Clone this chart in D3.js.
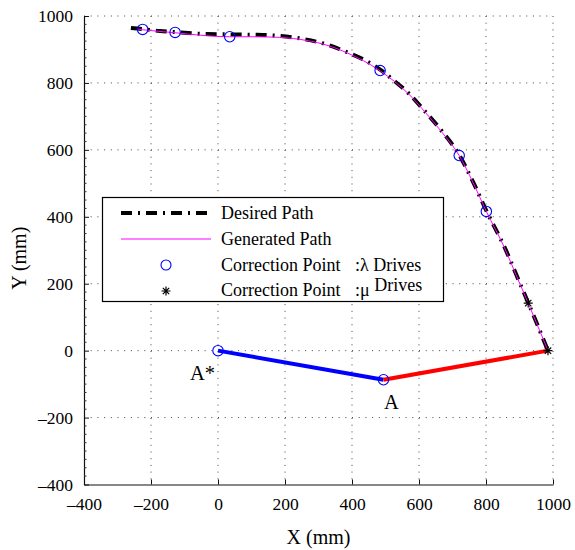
<!DOCTYPE html>
<html>
<head>
<meta charset="utf-8">
<script src="https://cdn.jsdelivr.net/npm/d3@7"></script>
<style>
  html, body { margin: 0; padding: 0; background: #fff; }
  svg { display: block; }
  text { font-family: "Liberation Serif", "Times New Roman", serif; fill: #000; }
</style>
</head>
<body>
<svg id="chart" width="575" height="550"></svg>
<script>
// ---------------- data ----------------
const desiredX = [-260, -225, -173, -128, -34, 35, 104, 164, 245, 314, 385, 463, 484, 523, 569, 619, 669, 720, 761, 801, 855, 890, 926, 956, 985];
const desiredY = [964, 961, 955, 952, 946, 945, 944, 942, 933, 918, 892, 854, 840, 809, 769, 714, 655, 585, 505, 418, 310, 228, 143, 71, 0];

const generatedX = [-240, -225, -128, -34, 35, 104, 164, 245, 314, 385, 484, 569, 619, 669, 720, 761, 801, 855, 890, 926, 956, 985];
const generatedY = [961, 959, 950, 941, 938, 938, 937, 930, 916, 890, 836, 767, 712, 652, 583, 503, 416, 308, 226, 142, 70, 0];

const lambdaX = [-225, -128, 35, 484, 720, 801, 0, 494];
const lambdaY = [960, 951, 938, 837, 583, 416, 0, -87];

const muX = [926, 985];
const muY = [142, 0];

const armBlueX = [0, 494];
const armBlueY = [0, -87];
const armRedX = [494, 985];
const armRedY = [-87, 0];

const pointLabels = ["A*", "A"];
const pointLabelX = [0, 494];
const pointLabelY = [0, -87];

const xTicks = [-400, -200, 0, 200, 400, 600, 800, 1000];
const xTickLabels = ["\u2013400", "\u2013200", "0", "200", "400", "600", "800", "1000"];
const yTicks = [-400, -200, 0, 200, 400, 600, 800, 1000];
const yTickLabels = ["\u2013400", "\u2013200", "0", "200", "400", "600", "800", "1000"];

const legendLabels = ["Desired Path", "Generated Path", "Correction Point", "Correction Point"];
const legendSuffix = ["", "", ":\u03bb Drives", ":\u03bc Drives"];

// ---------------- layout ----------------
const svg = d3.select("#chart");
const L = 84, R = 553, T = 16, B = 484.5;
const x = d3.scaleLinear().domain([-400, 1000]).range([L, R]);
const y = d3.scaleLinear().domain([-400, 1000]).range([B, T]);

const dashDot = "11,6,2,6";

// grid
const grid = svg.append("g");
grid.selectAll("line.gx").data(xTicks.filter(d => d !== -400)).enter().append("line")
  .attr("x1", d => x(d)).attr("x2", d => x(d)).attr("y1", T).attr("y2", B)
  .attr("stroke", "#444").attr("stroke-width", 1).attr("stroke-dasharray", "1,5.7");
grid.selectAll("line.gy").data(yTicks.filter(d => d !== -400)).enter().append("line")
  .attr("y1", d => y(d)).attr("y2", d => y(d)).attr("x1", L).attr("x2", R)
  .attr("stroke", "#444").attr("stroke-width", 1).attr("stroke-dasharray", "1,5.7");

// axes
const xAxis = d3.axisBottom(x).tickValues(xTicks).tickFormat((d, i) => xTickLabels[i])
  .tickSizeInner(-5).tickSizeOuter(0).tickPadding(13);
const yAxis = d3.axisLeft(y).tickValues(yTicks).tickFormat((d, i) => yTickLabels[i])
  .tickSizeInner(-5).tickSizeOuter(0).tickPadding(11);

const gx = svg.append("g").attr("transform", `translate(0,${B})`).call(xAxis);
const gy = svg.append("g").attr("transform", `translate(${L},0)`).call(yAxis);
[gx, gy].forEach(g => {
  g.select(".domain").attr("stroke", "#111").attr("stroke-width", 1.2);
  g.selectAll(".tick line").attr("stroke", "#111");
  g.selectAll(".tick text").attr("font-family", "Liberation Serif").attr("font-size", 17.5).attr("fill", "#000");
});

// minor ticks on y axis
const yMinor = d3.range(-400, 1001, 25).filter(v => v % 200 !== 0);
gy.selectAll("line.minor").data(yMinor).enter().append("line")
  .attr("x1", 0).attr("x2", 2.5).attr("y1", d => y(d)).attr("y2", d => y(d))
  .attr("stroke", "#333").attr("stroke-width", 1);

// axis labels
svg.append("text").attr("x", (L + R) / 2).attr("y", 544).attr("text-anchor", "middle")
  .attr("font-size", 20).text("X (mm)");
svg.append("text").attr("transform", `translate(26,${(T + B) / 2 + 8}) rotate(-90)`)
  .attr("text-anchor", "middle").attr("font-size", 20).text("Y (mm)");

// legend
const lg = svg.append("g");
lg.append("rect").attr("x", 102.5).attr("y", 197.5).attr("width", 341).attr("height", 104)
  .attr("fill", "#fff").attr("stroke", "#000").attr("stroke-width", 1.2);
const rowY = [213, 239, 265, 291];
const textBase = [219, 245, 271, 296];
lg.append("line").attr("x1", 121).attr("x2", 211).attr("y1", rowY[0]).attr("y2", rowY[0])
  .attr("stroke", "#000").attr("stroke-width", 4).attr("stroke-dasharray", dashDot);
lg.append("line").attr("x1", 121).attr("x2", 211).attr("y1", rowY[1]).attr("y2", rowY[1])
  .attr("stroke", "#ff00ff").attr("stroke-width", 1);
lg.append("circle").attr("cx", 166).attr("cy", rowY[2]).attr("r", 5)
  .attr("fill", "none").attr("stroke", "#0000ff").attr("stroke-width", 1.1);

function asterisk(g, cx, cy, r) {
  const p = d3.path();
  for (let k = 0; k < 4; k++) {
    const a = k * Math.PI / 4;
    p.moveTo(cx - r * Math.cos(a), cy - r * Math.sin(a));
    p.lineTo(cx + r * Math.cos(a), cy + r * Math.sin(a));
  }
  g.append("path").attr("d", p.toString()).attr("stroke", "#000").attr("stroke-width", 1.2).attr("fill", "none");
}
asterisk(lg, 166, rowY[3], 4.5);

legendLabels.forEach((t, i) => {
  lg.append("text").attr("x", 221).attr("y", textBase[i]).attr("font-size", 18).text(t);
});
lg.append("text").attr("x", 355).attr("y", textBase[2]).attr("font-size", 18).text(legendSuffix[2]);
const mu = lg.append("text").attr("x", 355).attr("y", textBase[3]).attr("font-size", 18);
mu.append("tspan").text(":\u03bc");
mu.append("tspan").attr("dy", -5).text(" Drives");

// paths
const line = d3.line().x(d => x(d[0])).y(d => y(d[1])).curve(d3.curveMonotoneX);
svg.append("path").datum(d3.zip(desiredX, desiredY)).attr("d", line)
  .attr("fill", "none").attr("stroke", "#000").attr("stroke-width", 4).attr("stroke-dasharray", dashDot);
svg.append("path").datum(d3.zip(generatedX, generatedY)).attr("d", line)
  .attr("fill", "none").attr("stroke", "#ff00ff").attr("stroke-width", 1);

const straight = d3.line().x(d => x(d[0])).y(d => y(d[1]));
svg.append("path").datum(d3.zip(armBlueX, armBlueY)).attr("d", straight)
  .attr("fill", "none").attr("stroke", "#0000ff").attr("stroke-width", 4);
svg.append("path").datum(d3.zip(armRedX, armRedY)).attr("d", straight)
  .attr("fill", "none").attr("stroke", "#ff0000").attr("stroke-width", 4);

// markers
svg.selectAll("circle.lam").data(d3.zip(lambdaX, lambdaY)).enter().append("circle")
  .attr("cx", d => x(d[0])).attr("cy", d => y(d[1])).attr("r", 5.2)
  .attr("fill", "none").attr("stroke", "#0000ff").attr("stroke-width", 1.1);
const mg = svg.append("g");
d3.zip(muX, muY).forEach(d => asterisk(mg, x(d[0]), y(d[1]), 4.5));

// point labels
svg.append("text").attr("x", x(pointLabelX[0]) - 3).attr("y", y(pointLabelY[0]) + 29)
  .attr("text-anchor", "end").attr("font-size", 20.5).text(pointLabels[0]);
svg.append("text").attr("x", x(pointLabelX[1]) + 8).attr("y", y(pointLabelY[1]) + 29)
  .attr("text-anchor", "middle").attr("font-size", 20.5).text(pointLabels[1]);
</script>
</body>
</html>
